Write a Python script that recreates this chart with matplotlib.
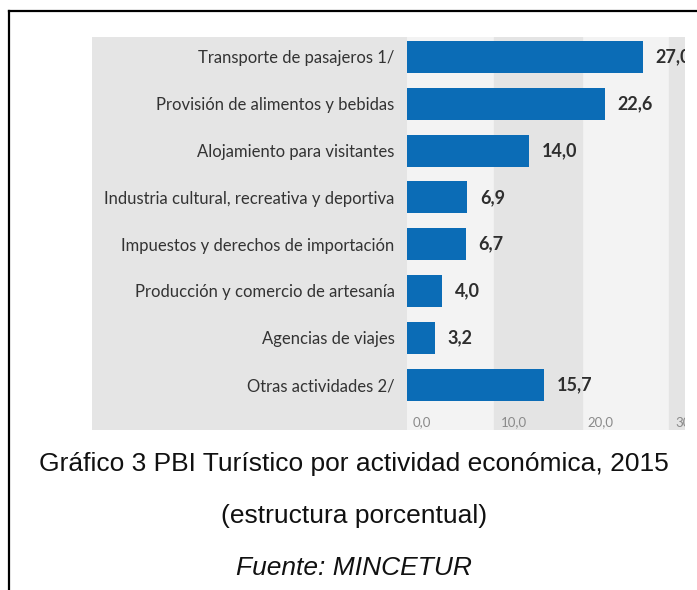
import matplotlib.pyplot as plt
from matplotlib.patches import Rectangle
from matplotlib.lines import Line2D

# Data
categorias = ['Transporte de pasajeros 1/', 'Provisión de alimentos y bebidas',
              'Alojamiento para visitantes', 'Industria cultural, recreativa y deportiva',
              'Impuestos y derechos de importación', 'Producción y comercio de artesanía',
              'Agencias de viajes', 'Otras actividades 2/']
valores = [27.0, 22.6, 14.0, 6.9, 6.7, 4.0, 3.2, 15.7]
ticks = [0, 10, 20, 30]
tick_labels = ['0,0', '10,0', '20,0', '30,0']

W, H = 697, 590
fig = plt.figure(figsize=(W / 100, H / 100), dpi=100)
fig.patch.set_facecolor('white')

# frame lines
fig.add_artist(Line2D([9 / W, 9 / W], [0, 1 - 11 / H], color='black', lw=1.6))
fig.add_artist(Line2D([9 / W, 1], [1 - 11 / H, 1 - 11 / H], color='black', lw=1.6))

# grey background of the embedded chart (label area)
gx0, gx1, gy0, gy1 = 92, 685, 37, 430
fig.add_artist(Rectangle((gx0 / W, 1 - gy1 / H), (407 - gx0) / W, (gy1 - gy0) / H,
                         transform=fig.transFigure, facecolor='#e5e5e5', edgecolor='none', zorder=0))

ax = fig.add_axes([407 / W, 1 - gy1 / H, (gx1 - 407) / W, (gy1 - gy0) / H])
ax.set_facecolor('#f3f3f3')
for s in ax.spines.values():
    s.set_visible(False)

px_per_unit = 8.74
ax.set_xlim(0, (gx1 - 407) / px_per_unit)
step = 46.8
ax.set_ylim((gy1 - 57) / step, (gy0 - 57) / step)

ax.axvspan(10, 20, color='#e4e4e4', zorder=0)
ax.axvspan(30, 40, color='#e4e4e4', zorder=0)

y = list(range(len(valores)))
ax.barh(y, valores, height=0.68, color='#0b6cb6', zorder=2)

for yi, v in zip(y, valores):
    ax.annotate(f'{v:.1f}'.replace('.', ','), (v, yi), xytext=(9, 0), textcoords='offset points',
                va='center', ha='left', fontsize=13, fontweight='bold', color='#2e2e2e',
                family='Lato', annotation_clip=False, clip_on=True)

ax.set_yticks(y)
ax.set_yticklabels(categorias, fontsize=12, color='#333333', family='Lato')
ax.tick_params(axis='y', length=0, pad=9)
ax.set_xticks([])

tick_y = (422 - 57) / step
for t, lab in zip(ticks, tick_labels):
    ax.text(t + 0.7, tick_y, lab, fontsize=9.5, color='#8a8a8a', va='center', ha='left',
            family='Lato', clip_on=True)

# caption
fig.text(354 / W, 1 - 464 / H, 'Gráfico 3 PBI Turístico por actividad económica, 2015',
         ha='center', va='center', fontsize=19, family='Liberation Sans', color='#111111')
fig.text(354 / W, 1 - 516 / H, '(estructura porcentual)',
         ha='center', va='center', fontsize=19, family='Liberation Sans', color='#111111')
fig.text(354 / W, 1 - 568 / H, 'Fuente: MINCETUR', ha='center', va='center',
         fontsize=19, style='italic', family='Liberation Sans', color='#111111')

plt.savefig('out.png', dpi=100)
